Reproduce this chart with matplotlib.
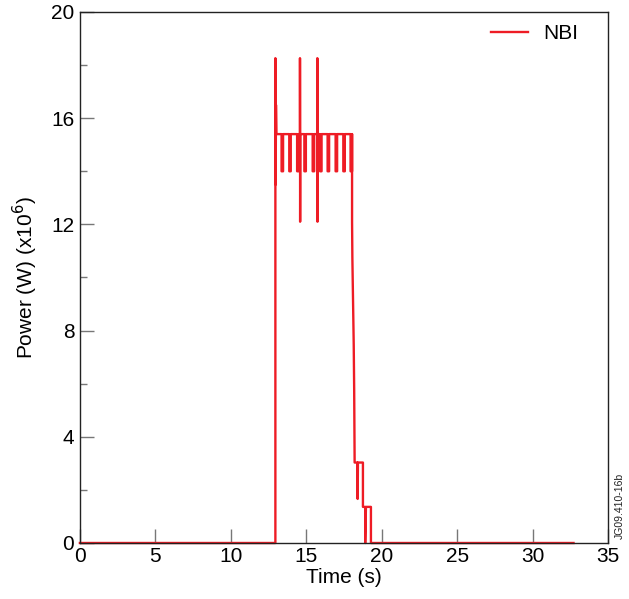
import matplotlib.pyplot as plt
from matplotlib.ticker import MultipleLocator

plt.rcParams['font.family'] = ['Liberation Sans', 'DejaVu Sans']

# NBI power trace (time in s, power in MW)
rise_t = [0.0, 12.95, 12.95, 12.97, 12.99, 13.02]
rise_p = [0.0, 0.0, 18.26, 13.5, 16.5, 15.4]

plateau = 15.4
dip_level = 14.0
dip_times = [13.36, 13.87, 14.39, 14.87, 15.42, 15.91, 16.41, 16.94, 17.45, 17.93]
spike_times = [14.58, 15.73]
spike_top = 18.26
spike_bottom = 12.1

fall_t = [18.03, 18.03, 18.05, 18.14, 18.17, 18.20, 18.38, 18.40, 18.42, 18.75,
          18.75, 18.90, 18.90, 18.95, 19.28, 19.28, 32.7]
fall_p = [15.4, 12.1, 10.75, 7.47, 5.77, 3.03, 3.03, 1.66, 3.03, 3.03,
          1.36, 1.36, 0.0, 1.36, 1.36, 0.0, 0.0]

# build the step path
t = list(rise_t)
p = list(rise_p)
events = sorted([(d, 'dip') for d in dip_times] + [(s, 'spike') for s in spike_times])
for when, kind in events:
    if kind == 'dip':
        t += [when, when, when + 0.1, when + 0.1]
        p += [plateau, dip_level, dip_level, plateau]
    else:
        t += [when, when, when + 0.01, when + 0.02]
        p += [plateau, spike_top, spike_bottom, plateau]
t += fall_t
p += fall_p

fig = plt.figure(figsize=(6.29, 5.99), dpi=100)
ax = fig.add_axes([0.127, 0.0935, 0.84, 0.8865])

ax.plot(t, p, color='#ee1c25', linewidth=1.7, label='NBI', clip_on=False)

ax.set_xlim(0, 35)
ax.set_ylim(0, 20)
ax.xaxis.set_major_locator(MultipleLocator(5))
ax.yaxis.set_major_locator(MultipleLocator(4))
ax.yaxis.set_minor_locator(MultipleLocator(2))
ax.tick_params(which='both', direction='in', color='#777777', width=1,
               labelsize=15, pad=4)
ax.tick_params(which='major', length=10)
ax.tick_params(which='minor', length=5)
ax.tick_params(axis='x', pad=3)
for s in ax.spines.values():
    s.set_color('#222222')
    s.set_linewidth(1)
    s.set_zorder(3)

ax.set_xlabel('Time (s)', fontsize=15, labelpad=1)
ax.set_ylabel('Power (W) (x10$^6$)', fontsize=15, labelpad=8)

ax.legend(loc='upper right', bbox_to_anchor=(0.978, 1.012), frameon=False,
          fontsize=15, handlelength=1.8, handletextpad=0.7)

fig.text(0.985, 0.1, 'JG09.410-16b', rotation=90, fontsize=7.5,
         ha='center', va='bottom', color='#222222')

fig.savefig('out.png', dpi=100)
